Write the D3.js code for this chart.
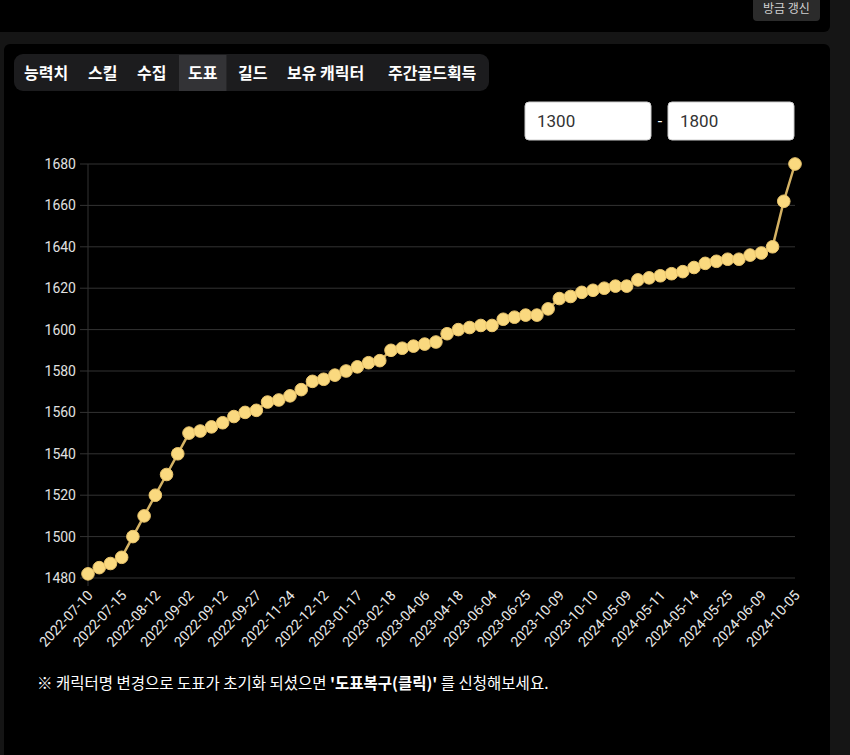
<!DOCTYPE html>
<html><head><meta charset="utf-8">
<script src="https://cdn.jsdelivr.net/npm/d3@7"></script>
<style>
html,body{margin:0;padding:0;background:#151515;overflow:hidden;}
svg{display:block;font-family:Roboto,"Noto Sans CJK KR",sans-serif;}
</style></head>
<body><svg id="c" width="850" height="755"></svg>
<script>
const categories = [
 "2022-07-10","2022-07-12","2022-07-13","2022-07-15","2022-07-22","2022-08-02",
 "2022-08-12","2022-08-19","2022-08-26","2022-09-02","2022-09-05","2022-09-08",
 "2022-09-12","2022-09-17","2022-09-22","2022-09-27","2022-10-12","2022-11-02",
 "2022-11-24","2022-11-30","2022-12-06","2022-12-12","2022-12-24","2023-01-05",
 "2023-01-17","2023-01-28","2023-02-08","2023-02-18","2023-03-04","2023-03-20",
 "2023-04-06","2023-04-10","2023-04-14","2023-04-18","2023-05-02","2023-05-18",
 "2023-06-04","2023-06-11","2023-06-18","2023-06-25","2023-07-20","2023-08-28",
 "2023-10-09","2023-10-09","2023-10-10","2023-10-10","2023-12-15","2024-02-20",
 "2024-05-09","2024-05-10","2024-05-10","2024-05-11","2024-05-12","2024-05-13",
 "2024-05-14","2024-05-18","2024-05-21","2024-05-25","2024-05-30","2024-06-04",
 "2024-06-09","2024-07-20","2024-08-30","2024-10-05"];
const values = [
 1482,1485,1487,1490,1500,1510,1520,1530,1540,1550,1551,1553,
 1555,1558,1560,1561,1565,1566,1568,1571,1575,1576,1578,1580,
 1582,1584,1585,1590,1591,1592,1593,1594,1598,1600,1601,1602,
 1602,1605,1606,1607,1607,1610,1615,1616,1618,1619,1620,1621,
 1621,1624,1625,1626,1627,1628,1630,1632,1633,1634,1634,1636,
 1637,1640,1662,1680];
const yTicks = [1480,1500,1520,1540,1560,1580,1600,1620,1640,1660,1680];
const tabs = ["능력치","스킬","수집","도표","길드","보유 캐릭터","주간골드획득"];
const activeTab = "도표";
const rangeInputs = ["1300","1800"];

const svg = d3.select("#c");
// cards
svg.append("rect").attr("x",-10).attr("y",-10).attr("width",840).attr("height",42).attr("rx",6).attr("fill","#000");
svg.append("rect").attr("x",4).attr("y",44).attr("width",826).attr("height",730).attr("rx",6).attr("fill","#000");
// refresh button
svg.append("rect").attr("x",753).attr("y",-6).attr("width",67).attr("height",27).attr("rx",4).attr("fill","#2b2b2b");
svg.append("text").attr("x",786.5).attr("y",13).attr("text-anchor","middle").attr("fill","#d0d0d0")
  .attr("font-size",12).attr("font-family","'Noto Sans CJK KR'").text("방금 갱신");

// tabs
svg.append("rect").attr("x",14).attr("y",54).attr("width",475).attr("height",37).attr("rx",9).attr("fill","#1c1c1e");
const tabG = svg.append("g");
const tabXs = [24,88,137,188,238,287,388];
tabs.forEach((t,i)=>{
  const txt = tabG.append("text").attr("x",tabXs[i]).attr("y",79).attr("fill","#fff")
    .attr("font-size",16).attr("font-weight","bold").attr("font-family","'Noto Sans CJK KR'").text(t);
  if(t===activeTab){
    const w = txt.node().getComputedTextLength();
    tabG.insert("rect","text").attr("x",tabXs[i]-9).attr("y",55).attr("width",w+18).attr("height",36).attr("fill","#333336");
  }
});

// range inputs
const inX = [525,668];
rangeInputs.forEach((v,i)=>{
  svg.append("rect").attr("x",inX[i]).attr("y",102).attr("width",126).attr("height",38).attr("rx",4)
    .attr("fill","#fff").attr("stroke","#ccc");
  svg.append("text").attr("x",inX[i]+12).attr("y",127).attr("fill","#333").attr("font-size",17).text(v);
});
svg.append("text").attr("x",660).attr("y",127).attr("text-anchor","middle").attr("fill","#fff").attr("font-size",16).text("-");

// scales
const x = d3.scalePoint().domain(d3.range(categories.length)).range([88,795]);
const y = d3.scaleLinear().domain([1480,1680]).range([578,164]);

// grid
const grid = svg.append("g");
grid.selectAll("line").data(yTicks).join("line")
  .attr("x1",80).attr("x2",795).attr("y1",d=>y(d)).attr("y2",d=>y(d))
  .attr("stroke","#333").attr("stroke-width",1);
grid.append("line").attr("x1",88).attr("x2",88).attr("y1",164).attr("y2",586).attr("stroke","#333");

// y axis
const yAxis = svg.append("g").attr("transform","translate(80,0)")
  .call(d3.axisLeft(y).tickValues(yTicks).tickSize(0).tickPadding(4).tickFormat(d3.format("d")));
yAxis.select(".domain").remove();
yAxis.selectAll("text").attr("fill","#e0e0e0").attr("font-size",14).attr("font-family","Roboto");

// x axis
const xTickIdx = d3.range(categories.length).filter(i=>i%3===0);
const xAxis = svg.append("g").attr("transform","translate(0,578)")
  .call(d3.axisBottom(x).tickValues(xTickIdx).tickSize(0).tickFormat(i=>categories[i]));
xAxis.select(".domain").remove();
xAxis.selectAll("text").attr("fill","#e8e8e8").attr("font-size",14).attr("font-family","Roboto")
  .attr("text-anchor","end").attr("dy",0)
  .attr("transform","translate(3,16) rotate(-47)");

// line + points
svg.append("path").datum(values)
  .attr("d",d3.line().x((d,i)=>x(i)).y(d=>y(d)))
  .attr("fill","none").attr("stroke","#d4b264").attr("stroke-width",2.5);
svg.append("g").selectAll("circle").data(values).join("circle")
  .attr("cx",(d,i)=>x(i)).attr("cy",d=>y(d)).attr("r",6.3)
  .attr("fill","#fad97f").attr("stroke","#e9c46c").attr("stroke-width",1);

// footer
const ft = svg.append("text").attr("x",37).attr("y",689).attr("fill","#fff").attr("font-size",15.5)
  .attr("font-family","'Noto Sans CJK KR'");
ft.append("tspan").text("※ 캐릭터명 변경으로 도표가 초기화 되셨으면 ");
ft.append("tspan").attr("font-weight","bold").text("'도표복구(클릭)'");
ft.append("tspan").text(" 를 신청해보세요.");
</script></body></html>
